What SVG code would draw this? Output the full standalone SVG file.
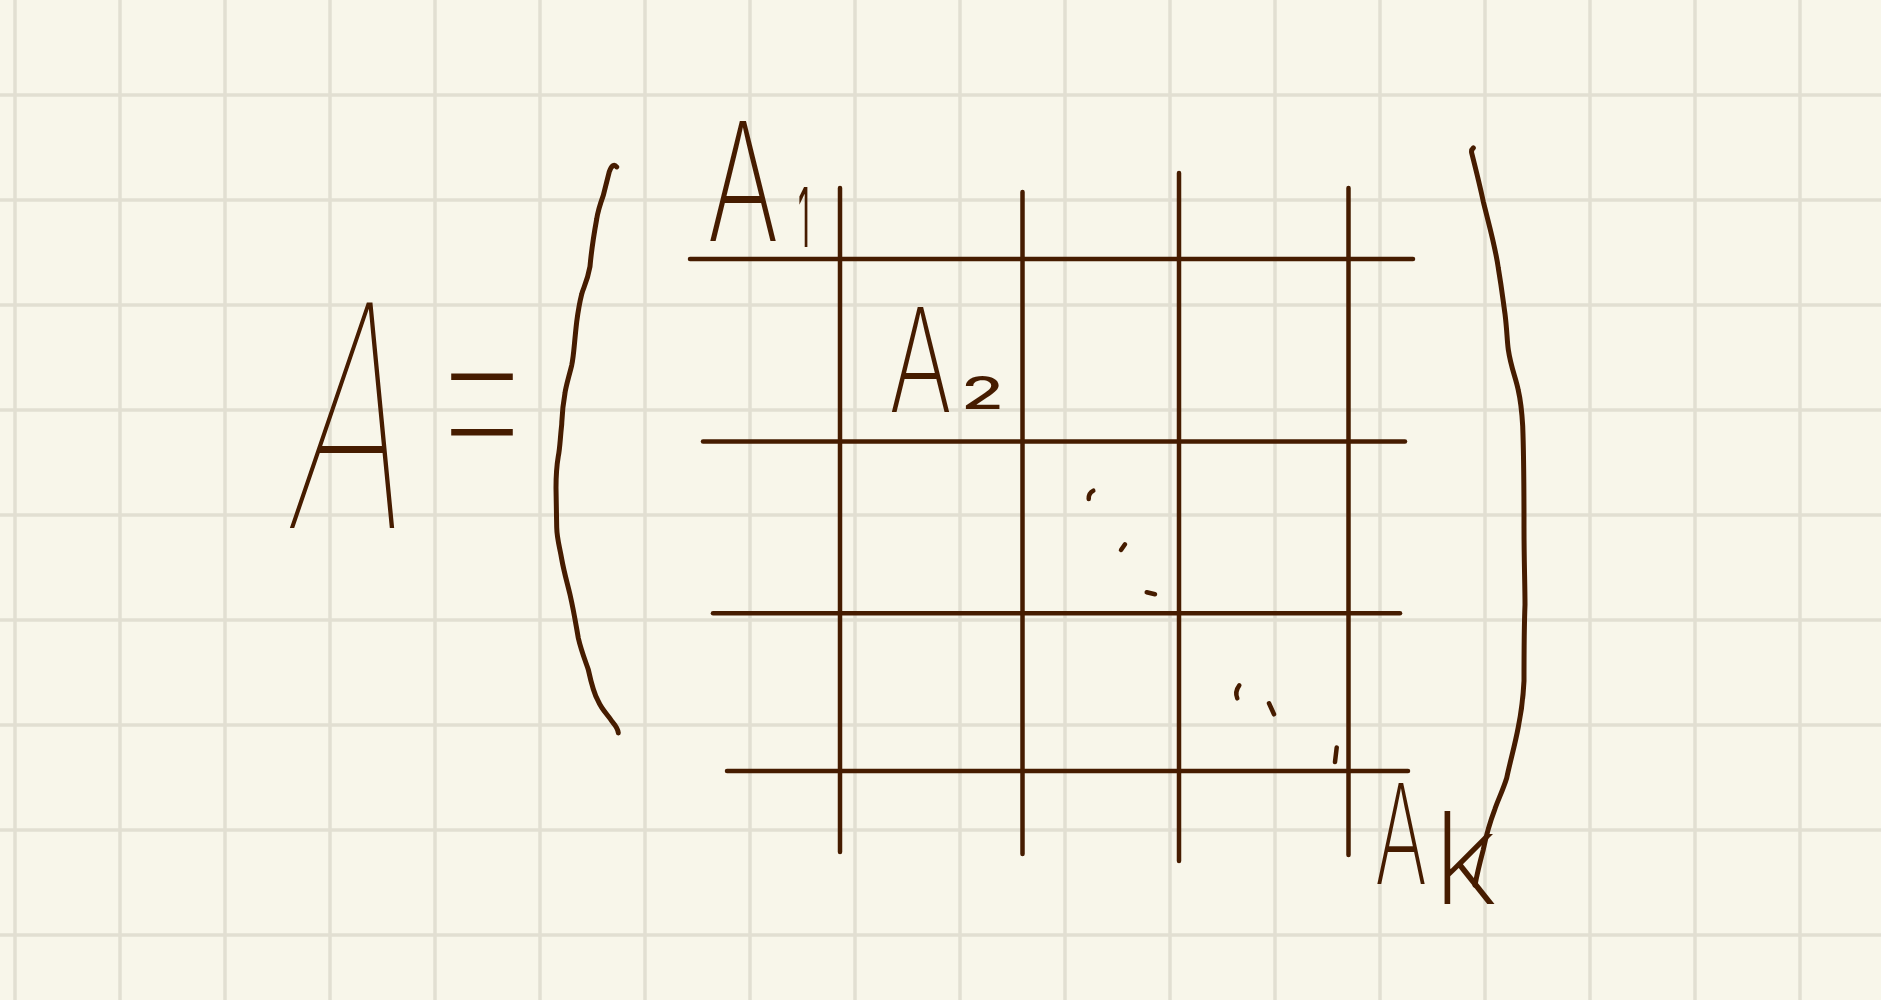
<svg xmlns="http://www.w3.org/2000/svg" width="1881" height="1000" viewBox="0 0 1881 1000">
<style>
.grid line{stroke:#e2dfd2;stroke-width:3.5}
.ink{stroke:#461c00;fill:none;stroke-linecap:round;stroke-linejoin:round}
.m{stroke-width:4.5}
.h{stroke-width:5}
.d{stroke-width:4.5}
.t{fill:#461c00;font-family:Inter,"Noto Sans","DejaVu Sans",sans-serif}
</style>
<rect width="1881" height="1000" fill="#f8f6ea"/>
<g id="grid" class="grid">
<line x1="15" y1="0" x2="15" y2="1000"/><line x1="120" y1="0" x2="120" y2="1000"/><line x1="225" y1="0" x2="225" y2="1000"/><line x1="330" y1="0" x2="330" y2="1000"/><line x1="435" y1="0" x2="435" y2="1000"/><line x1="540" y1="0" x2="540" y2="1000"/><line x1="645" y1="0" x2="645" y2="1000"/><line x1="750" y1="0" x2="750" y2="1000"/><line x1="855" y1="0" x2="855" y2="1000"/><line x1="960" y1="0" x2="960" y2="1000"/><line x1="1065" y1="0" x2="1065" y2="1000"/><line x1="1170" y1="0" x2="1170" y2="1000"/><line x1="1275" y1="0" x2="1275" y2="1000"/><line x1="1380" y1="0" x2="1380" y2="1000"/><line x1="1485" y1="0" x2="1485" y2="1000"/><line x1="1590" y1="0" x2="1590" y2="1000"/><line x1="1695" y1="0" x2="1695" y2="1000"/><line x1="1800" y1="0" x2="1800" y2="1000"/>
<line x1="0" y1="95" x2="1881" y2="95"/><line x1="0" y1="200" x2="1881" y2="200"/><line x1="0" y1="305" x2="1881" y2="305"/><line x1="0" y1="410" x2="1881" y2="410"/><line x1="0" y1="515" x2="1881" y2="515"/><line x1="0" y1="620" x2="1881" y2="620"/><line x1="0" y1="725" x2="1881" y2="725"/><line x1="0" y1="830" x2="1881" y2="830"/><line x1="0" y1="935" x2="1881" y2="935"/>
</g>
<g id="lhs">
<g transform="translate(342,528) skewX(-7)">
<text class="t" x="-58" y="0" font-size="310" style="font-weight:120" textLength="116" lengthAdjust="spacingAndGlyphs">A</text>
</g>
<text class="t" x="424" y="487.5" font-size="292" style="font-weight:100" textLength="116" lengthAdjust="spacingAndGlyphs">=</text>
</g>
<g id="brackets" class="ink h">
<path d="M616.7,166.9 Q613,162 609.3,171.6 L603.3,195.3 Q598,210 596.7,219 C592,245 591,255 590,266.5 C587,283 583,288 581.7,294.2 C579,305 578,312 576.7,321.8 C574,345 574,355 571.7,365.3 C568,380 566,386 565,393 C562,410 562,418 561.7,424.6 C560,440 560,448 558.3,456.2 C556,470 556,480 556,487.8 L556.7,527.3 C557,540 560,548 561.7,559 C564,572 567,582 570,594.5 C574,612 576,625 578.3,638 C581,650 585,660 588.3,669.6 C591,682 594,694 598.3,701.3 C602,710 608,715 611.7,721 C615,725 618,728 618.3,732.9"/>
<path d="M1473.3,148 Q1471,150 1471.7,153 C1476,170 1480,186 1483.3,201.6 C1489,225 1495,245 1498.3,268 C1502,290 1503,300 1505,313.9 C1507,330 1507,340 1508.3,349.6 C1511,368 1516,378 1518.3,390.4 C1521,402 1522,414 1522.7,426 C1524,460 1524,495 1524,528 C1524,560 1525,585 1525,604.7 C1524,630 1524,660 1524,681 C1523,700 1521,714 1518.3,727 C1515,745 1510,762 1506.7,778 C1503,790 1498,800 1495,808.8 C1490,822 1486,836 1483.3,849.6 C1480,862 1477,874 1475,885.3"/>
</g>
<g id="matrix" class="ink m">
<line x1="690" y1="259" x2="1413" y2="259"/>
<line x1="703" y1="441.5" x2="1405" y2="441.5"/>
<line x1="713" y1="613.3" x2="1400" y2="613.3"/>
<line x1="727" y1="771" x2="1408" y2="771"/>
<line x1="840" y1="188" x2="840" y2="852"/>
<line x1="1022.5" y1="192" x2="1022.5" y2="854"/>
<line x1="1179" y1="173" x2="1179" y2="861"/>
<line x1="1348.5" y1="188" x2="1348.5" y2="855"/>
</g>
<g id="block-A1">
<text class="t"><tspan x="707" y="241" font-size="165" style="font-weight:250" textLength="72" lengthAdjust="spacingAndGlyphs">A</tspan><tspan x="798" y="247" font-size="82" style="font-weight:400" textLength="12" lengthAdjust="spacingAndGlyphs">1</tspan></text>
</g>
<g id="block-A2">
<text class="t"><tspan x="889" y="412" font-size="145" style="font-weight:250" textLength="63" lengthAdjust="spacingAndGlyphs">A</tspan><tspan x="961" y="409" font-size="45" style="font-weight:500" textLength="43" lengthAdjust="spacingAndGlyphs">2</tspan></text>
</g>
<g id="dots" class="ink d">
<path d="M1088.7,499 Q1088.5,493 1093.3,490.7"/>
<path d="M1121,550 L1125,544.3"/>
<path d="M1146.7,592.3 L1155,594.3"/>
<path d="M1237.3,698.3 Q1234.5,691.7 1239.3,685.3"/>
<path d="M1269,703.3 L1274,714.3"/>
<path d="M1335,762 L1336.7,747.5"/>
</g>
<g id="block-Ak">
<text class="t"><tspan x="1375" y="884" font-size="139" style="font-weight:250" textLength="52" lengthAdjust="spacingAndGlyphs">A</tspan><tspan x="1433" y="904" font-size="128" style="font-weight:220" textLength="65" lengthAdjust="spacingAndGlyphs">k</tspan></text>
</g>
</svg>
